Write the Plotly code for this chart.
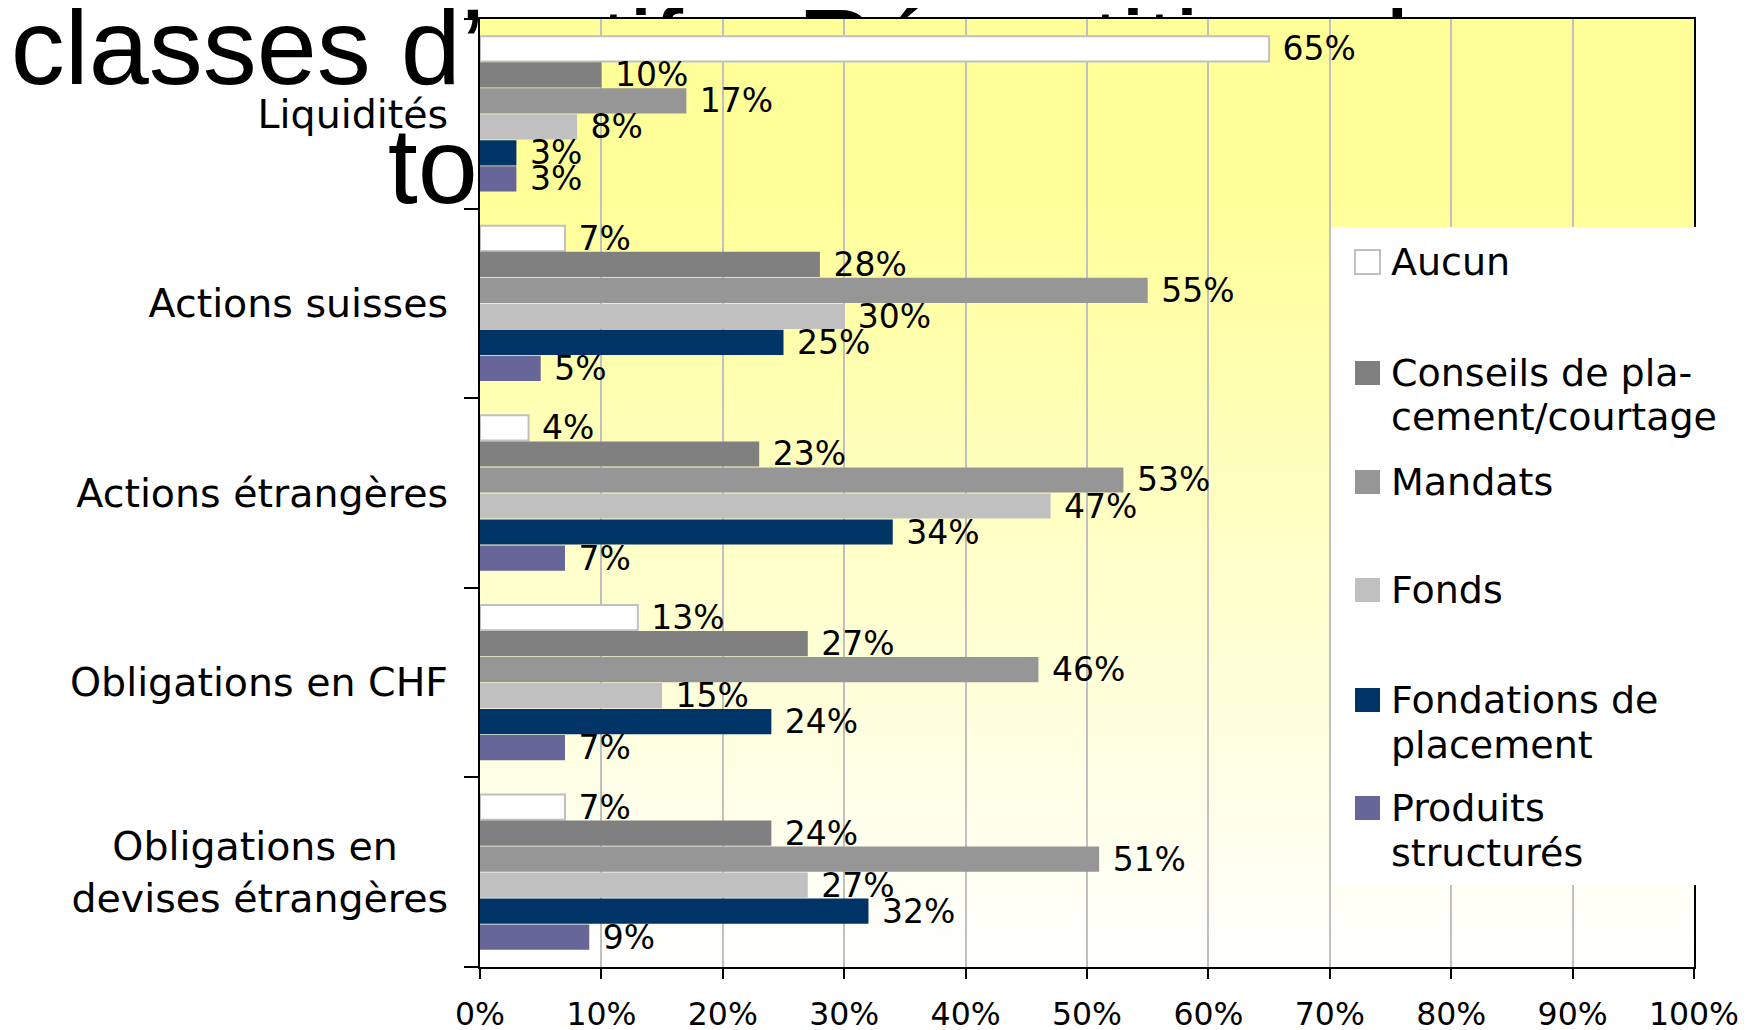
import base64
import plotly.graph_objects as go

# ---------------- data ----------------
categories = ["Liquidités", "Actions suisses", "Actions étrangères",
              "Obligations en CHF", "Obligations en devises étrangères"]
category_labels = ["Liquidités", "Actions suisses", "Actions étrangères",
                   "Obligations en CHF",
                   "Obligations en\u00a0\u00a0\u00a0\u00a0<br>devises étrangères"]
series_names = ["Aucun", "Conseils de placement/courtage", "Mandats", "Fonds",
                "Fondations de placement", "Produits structurés"]
legend_labels = ["Aucun", "Conseils de pla-<br>cement/courtage", "Mandats", "Fonds",
                 "Fondations de<br>placement", "Produits<br>structurés"]
aucun = [65, 7, 4, 13, 7]
conseils = [10, 28, 23, 27, 24]
mandats = [17, 55, 53, 46, 51]
fonds = [8, 30, 47, 15, 27]
fondations = [3, 25, 34, 24, 32]
produits = [3, 5, 7, 7, 9]
x_ticks = [0, 10, 20, 30, 40, 50, 60, 70, 80, 90, 100]
x_tick_labels = ["0%", "10%", "20%", "30%", "40%", "50%", "60%", "70%", "80%", "90%", "100%"]
title_lines = ["classes d\u2019actifs: Répartition du", "total des réponses"]

# ---------------- styles / geometry ----------------
series_values = [aucun, conseils, mandats, fonds, fondations, produits]
colors = ["#FFFFFF", "#808080", "#969696", "#C0C0C0", "#003366", "#666699"]
FONT = "DejaVu Sans, Verdana, sans-serif"
PAGE_OFF = 8                      # default body margin of the html page
W, H = 1760 - PAGE_OFF, 1030 - PAGE_OFF
# plot area in page pixels
PX0, PX1, PY0, PY1 = 480, 1694, 19, 967
L, T = PX0 - PAGE_OFF, PY0 - PAGE_OFF
R, B = W - (PX1 - PAGE_OFF), H - (PY1 - PAGE_OFF)


def px(x):
    return (x - PX0) / (PX1 - PX0)


def py(y):
    return (PY1 - y) / (PY1 - PY0)


fig = go.Figure()

# Title (drawn in a hidden subplot, underneath the chart area); coords = page px
fig.add_trace(go.Scatter(
    x=[740, 829], y=[57, 176], mode="text", text=title_lines,
    textposition="middle center",
    textfont=dict(family="Liberation Sans, Arial, sans-serif", size=108, color="black"),
    cliponaxis=False, hoverinfo="skip", showlegend=False,
    xaxis="x", yaxis="y"))

for name, vals, color in zip(series_names, series_values, colors):
    is_white = color == "#FFFFFF"
    fig.add_trace(go.Bar(
        orientation="h", y=categories, x=vals, name=name,
        xaxis="x2", yaxis="y2",
        marker=dict(color=color,
                    line=dict(color="#C0C0C0" if is_white else color,
                              width=2 if is_white else 0)),
        text=[f"\u00a0{v}%" for v in vals], textposition="outside",
        textfont=dict(family=FONT, size=33, color="black"),
        constraintext="none", cliponaxis=False, showlegend=False,
        hoverinfo="x+y+name"))

svg = ("<svg xmlns='http://www.w3.org/2000/svg' width='10' height='100' "
       "viewBox='0 0 10 100' preserveAspectRatio='none'><defs>"
       "<linearGradient id='g' x1='0' y1='0' x2='0' y2='1'>"
       "<stop offset='0' stop-color='#FFFF99'/>"
       "<stop offset='0.18' stop-color='#FFFF99'/>"
       "<stop offset='1' stop-color='#FFFFFF'/>"
       "</linearGradient></defs>"
       "<rect width='10' height='100' fill='url(#g)'/></svg>")
grad_src = "data:image/svg+xml;base64," + base64.b64encode(svg.encode()).decode()

shapes = [dict(type="rect", xref="paper", yref="paper",
               x0=px(1331), x1=px(1770), y0=py(885), y1=py(227),
               fillcolor="white", line=dict(width=0), layer="above")]
annotations = []
legend_line_y = [[262], [373, 417], [482], [590], [700, 745], [808, 853]]
for lab, color, ys in zip(legend_labels, colors, legend_line_y):
    is_white = color == "#FFFFFF"
    sy = ys[0]
    shapes.append(dict(type="rect", xref="paper", yref="paper",
                       x0=px(1355), x1=px(1380), y0=py(sy + 12), y1=py(sy - 12),
                       fillcolor=color,
                       line=dict(color="#C0C0C0" if is_white else color,
                                 width=2 if is_white else 0),
                       layer="above"))
    for line_text, ly in zip(lab.split("<br>"), ys):
        annotations.append(dict(text=line_text, xref="paper", yref="paper",
                                x=px(1389), y=py(ly), xanchor="left",
                                yanchor="middle", align="left", showarrow=False,
                                font=dict(family=FONT, size=38, color="black")))

fig.update_layout(
    width=W, height=H,
    margin=dict(l=L, r=R, t=T, b=B, pad=0, autoexpand=False),
    paper_bgcolor="white", plot_bgcolor="rgba(0,0,0,0)",
    barmode="group", bargap=0.177, bargroupgap=0.03,
    showlegend=False, hovermode="closest",
    xaxis=dict(domain=[0, 1], range=[PX0, PX1], visible=False, fixedrange=True,
               automargin=False),
    yaxis=dict(domain=[0, 1], range=[PY1, PY0], visible=False, fixedrange=True,
               automargin=False),
    xaxis2=dict(domain=[0, 1], anchor="y2", range=[0, 100], automargin=False,
                tickmode="array", tickvals=x_ticks, ticktext=x_tick_labels,
                showgrid=True, gridcolor="#C0C0C0", gridwidth=1.5,
                zeroline=False, showline=True, linecolor="black", linewidth=2,
                mirror=True, ticks="outside", ticklen=10, tickwidth=2,
                tickcolor="black", ticklabelstandoff=8,
                tickfont=dict(family=FONT, size=31.5, color="black")),
    yaxis2=dict(domain=[0, 1], anchor="x2", type="category", automargin=False,
                categoryorder="array", categoryarray=categories,
                autorange="reversed",
                tickmode="array", tickvals=categories, ticktext=category_labels,
                tickson="boundaries", showgrid=False, zeroline=False,
                showline=True, linecolor="black", linewidth=2, mirror=True,
                ticks="outside", ticklen=14, tickwidth=2, tickcolor="black",
                ticklabelstandoff=22,
                tickfont=dict(family=FONT, size=39.5, color="black")),
    images=[dict(source=grad_src, xref="x2", yref="y2", x=0, y=-0.5,
                 sizex=100, sizey=5, xanchor="left", yanchor="top",
                 sizing="stretch", layer="below")],
    shapes=shapes,
    annotations=annotations,
)

fig.write_html("out.html")
